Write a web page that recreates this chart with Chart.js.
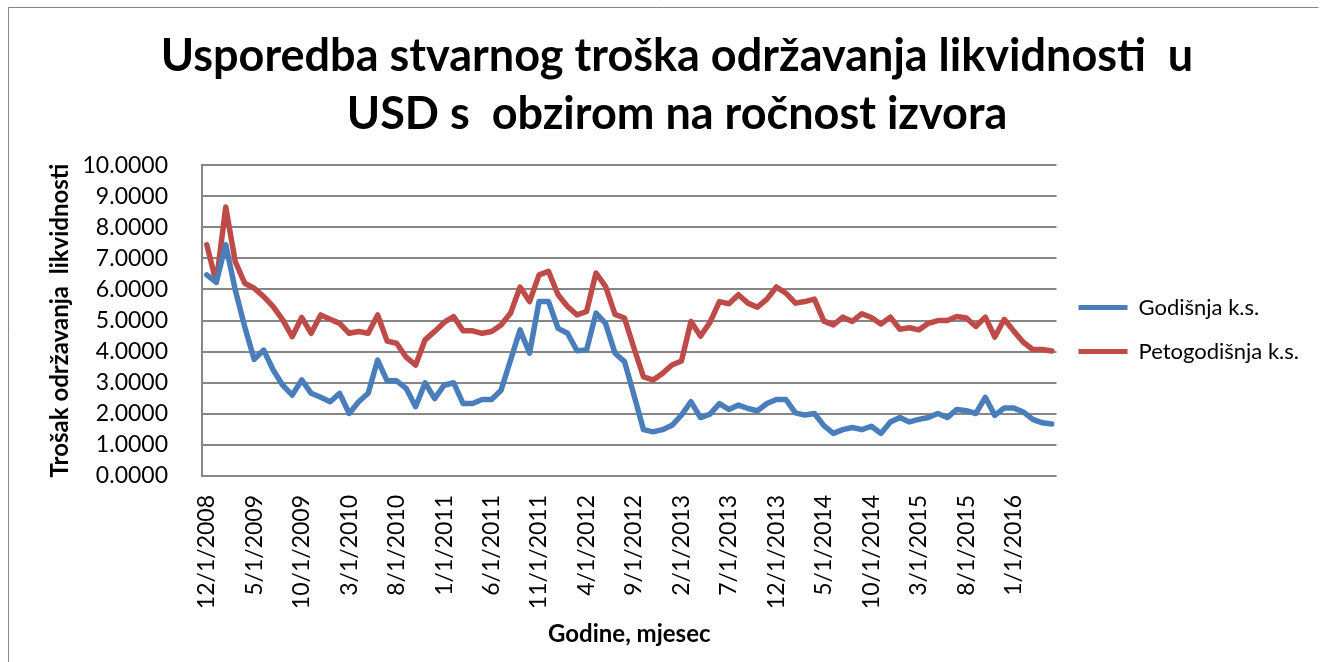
<!DOCTYPE html>
<html>
<head>
<meta charset="utf-8">
<script src="https://cdn.jsdelivr.net/npm/chart.js@4/dist/chart.umd.min.js"></script>
<style>
  html, body { margin: 0; padding: 0; background: #fff; }
  #wrap { position: relative; width: 1328px; height: 662px; }
</style>
</head>
<body>
<div id="wrap"><canvas id="costChart" width="1328" height="662"></canvas></div>
<script>
// monthly, 12/1/2008 .. 5/1/2016
const startYear = 2008, startMonth = 12, monthCount = 90;
const months = [];
for (let i = 0; i < monthCount; i++) {
  const m = (startMonth - 1 + i) % 12 + 1;
  const y = startYear + Math.floor((startMonth - 1 + i) / 12);
  months.push(m + '/1/' + y);
}

const godisnja = [
  6.47, 6.23, 7.44, 5.99, 4.80, 3.75, 4.05, 3.41, 2.92, 2.60,
  3.09, 2.66, 2.53, 2.39, 2.66, 2.01, 2.39, 2.66, 3.73, 3.06,
  3.06, 2.82, 2.23, 3.00, 2.49, 2.92, 3.00, 2.33, 2.33, 2.46,
  2.46, 2.76, 3.73, 4.70, 3.95, 5.61, 5.61, 4.75, 4.59, 4.03,
  4.05, 5.24, 4.91, 3.95, 3.68, 2.60, 1.49, 1.42, 1.49, 1.63,
  1.96, 2.39, 1.88, 1.99, 2.33, 2.14, 2.28, 2.17, 2.10, 2.33,
  2.46, 2.46, 2.03, 1.96, 2.01, 1.62, 1.37, 1.49, 1.56, 1.49,
  1.60, 1.37, 1.74, 1.88, 1.74, 1.82, 1.88, 2.01, 1.88, 2.14,
  2.10, 2.01, 2.53, 1.95, 2.19, 2.19, 2.06, 1.82, 1.71, 1.67
];

const petogodisnja = [
  7.44, 6.23, 8.65, 6.90, 6.20, 6.04, 5.77, 5.45, 5.02, 4.48,
  5.10, 4.59, 5.18, 5.04, 4.91, 4.59, 4.65, 4.59, 5.18, 4.34,
  4.27, 3.82, 3.57, 4.38, 4.65, 4.94, 5.13, 4.67, 4.67, 4.59,
  4.65, 4.86, 5.24, 6.08, 5.61, 6.47, 6.58, 5.83, 5.45, 5.18,
  5.29, 6.53, 6.10, 5.20, 5.08, 4.11, 3.19, 3.09, 3.30, 3.57,
  3.70, 4.97, 4.50, 4.94, 5.61, 5.54, 5.83, 5.56, 5.43, 5.69,
  6.08, 5.88, 5.56, 5.61, 5.69, 4.98, 4.86, 5.11, 4.97, 5.22,
  5.10, 4.89, 5.11, 4.72, 4.77, 4.70, 4.91, 5.00, 5.00, 5.13,
  5.08, 4.81, 5.11, 4.47, 5.04, 4.66, 4.30, 4.07, 4.07, 4.02
];

const yTicks = [0, 1, 2, 3, 4, 5, 6, 7, 8, 9, 10];
const labelStep = 5;

const titleLines = [
  'Usporedba stvarnog troška održavanja likvidnosti  u',
  'USD s  obzirom na ročnost izvora'
];

const FONT = 'Lato, "Open Sans", sans-serif';
const GRID = '#868686';

const frame = {
  id: 'frame',
  beforeDraw(chart) {
    const ctx = chart.ctx;
    ctx.save();
    ctx.fillStyle = '#fff';
    ctx.fillRect(0, 0, chart.width, chart.height);
    ctx.strokeStyle = GRID;
    ctx.lineWidth = 1;
    ctx.beginPath();
    ctx.moveTo(8.5, chart.height);
    ctx.lineTo(8.5, 7.5);
    ctx.lineTo(1318.5, 7.5);
    ctx.stroke();
    ctx.restore();
  }
};

new Chart(document.getElementById('costChart'), {
  type: 'line',
  data: {
    labels: months,
    datasets: [{
      label: 'Godišnja k.s.',
      data: godisnja,
      borderColor: '#4a7ebb',
      backgroundColor: '#4a7ebb',
      borderWidth: 5.5,
      pointRadius: 0,
      tension: 0,
      borderJoinStyle: 'round',
      borderCapStyle: 'round'
    }, {
      label: 'Petogodišnja k.s.',
      data: petogodisnja,
      borderColor: '#be4b48',
      backgroundColor: '#be4b48',
      borderWidth: 5.5,
      pointRadius: 0,
      tension: 0,
      borderJoinStyle: 'round',
      borderCapStyle: 'round'
    }]
  },
  options: {
    responsive: false,
    animation: false,
    layout: { padding: { left: 45, right: 19, top: 0, bottom: 12 } },
    plugins: {
      title: {
        display: true,
        text: titleLines,
        color: '#000',
        font: { family: FONT, size: 45, weight: 'bold', lineHeight: 1.29 },
        padding: { top: 27, bottom: 22 }
      },
      legend: {
        position: 'right',
        fullSize: false,
        title: { display: true, text: '', font: { size: 10, lineHeight: 1.2 }, padding: { top: 3, bottom: 3 } },
        labels: {
          color: '#000',
          font: { family: FONT, size: 22 },
          boxWidth: 49,
          boxHeight: 5,
          padding: 22,
          generateLabels(chart) {
            return chart.data.datasets.map((ds, i) => ({
              text: ds.label,
              fillStyle: ds.borderColor,
              strokeStyle: ds.borderColor,
              lineWidth: 0,
              fontColor: '#000',
              datasetIndex: i
            }));
          }
        }
      },
      tooltip: { enabled: false }
    },
    scales: {
      x: {
        offset: true,
        grid: { display: false, drawTicks: false },
        border: { display: false },
        ticks: {
          autoSkip: false,
          minRotation: 90,
          maxRotation: 90,
          padding: 19,
          color: '#000',
          font: { family: FONT, size: 23 },
          callback(v, i) { return i % labelStep === 0 ? months[i] : ''; }
        },
        title: {
          display: true,
          text: 'Godine, mjesec',
          color: '#000',
          font: { family: FONT, size: 24, weight: 'bold', lineHeight: 1.3 },
          padding: 0
        },
        afterFit(scale) { scale.height = 662 - 12 - 476; }
      },
      y: {
        min: 0,
        max: 10,
        afterBuildTicks(scale) { scale.ticks = yTicks.map(v => ({ value: v })); },
        grid: { color: GRID, lineWidth: 2, drawTicks: false },
        border: { display: true, color: GRID, width: 2 },
        ticks: {
          padding: 34,
          color: '#000',
          font: { family: FONT, size: 23 },
          callback(v) { return Number(v).toFixed(4); }
        },
        title: {
          display: true,
          text: 'Trošak održavanja  likvidnosti',
          color: '#000',
          font: { family: FONT, size: 24, weight: 'bold', lineHeight: 1.3 },
          padding: 0
        },
        afterFit(scale) { scale.width = 202 - 45; }
      }
    }
  },
  plugins: [frame]
});
</script>
</body>
</html>
